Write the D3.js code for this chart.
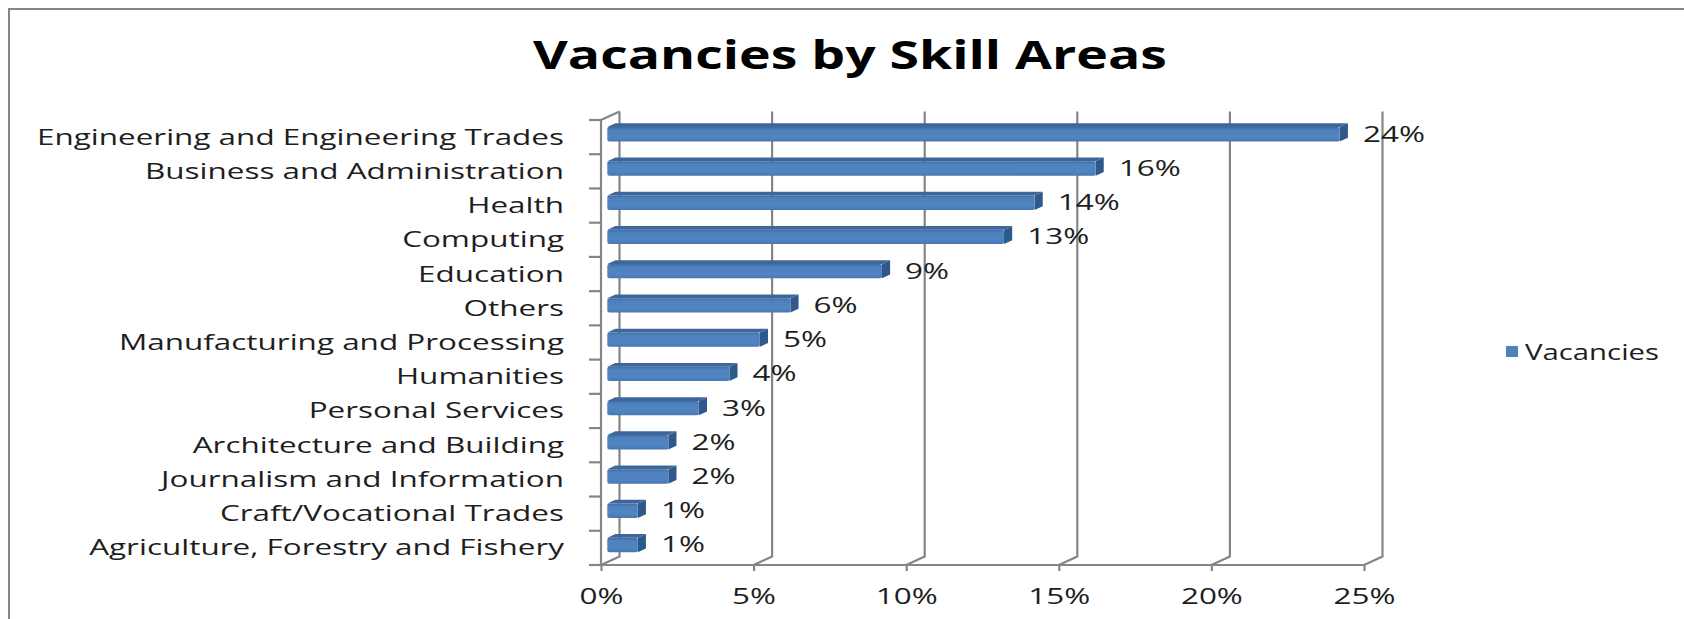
<!DOCTYPE html>
<html>
<head>
<meta charset="utf-8">
<script src="https://cdn.jsdelivr.net/npm/d3@7"></script>
<style>
  body { margin: 0; background: #fff; }
  svg { display: block; }
  text { font-family: "Open Sans", "DejaVu Sans", sans-serif; fill: #1e1e1e; }
</style>
</head>
<body>
<svg width="1684" height="619"></svg>
<script>
// Chart data
var categories = [
    'Engineering and Engineering Trades',
    'Business and Administration',
    'Health',
    'Computing',
    'Education',
    'Others',
    'Manufacturing and Processing',
    'Humanities',
    'Personal Services',
    'Architecture and Building',
    'Journalism and Information',
    'Craft/Vocational Trades',
    'Agriculture, Forestry and Fishery'
];
var values = [0.24, 0.16, 0.14, 0.13, 0.09, 0.06, 0.05, 0.04, 0.03, 0.02, 0.02, 0.01, 0.01];
var xTicks = [0, 0.05, 0.10, 0.15, 0.20, 0.25];
var seriesName = 'Vacancies';
var chartTitle = 'Vacancies by Skill Areas';

var svg = d3.select('svg');

// Layout of the front plane of the 3D plot
var plot = {l: 601, r: 1364, t: 120, b: 565};
// offset of the back wall
var depth = {dx: 18.5, dy: -8.5};

var gridColor = '#858585';

// Outer chart border
svg.append('rect')
    .attr('x', 9).attr('y', 9)
    .attr('width', 1720).attr('height', 700)
    .attr('fill', 'none')
    .attr('stroke', '#858585')
    .attr('stroke-width', 2);

// helper: stretch a group of texts horizontally so a reference string hits a width
function fitWidth(sel, refNode, target) {
    var k = target / refNode.getComputedTextLength();
    sel.each(function() {
        var t = d3.select(this);
        var x = +t.attr('x') || 0, y = +t.attr('y') || 0;
        t.attr('transform', 'translate(' + [x, y] + ') scale(' + k + ',1) translate(' + [-x, -y] + ')');
    });
}

// Title
var title = svg.append('text')
    .attr('class', 'title')
    .attr('x', 850).attr('y', 69)
    .attr('text-anchor', 'middle')
    .style('font-size', '40px')
    .style('font-weight', 'bold')
    .style('fill', '#000')
    .text(chartTitle);
fitWidth(title, title.node(), 634);

// Scales
var xScale = d3.scaleLinear()
    .domain([0, 0.25])
    .range([plot.l, plot.r]);

var yScale = d3.scaleBand()
    .domain(categories)
    .range([plot.t, plot.b]);

var gridG = svg.append('g').attr('class', 'grid');

// back wall gridlines + floor diagonals
xTicks.forEach(function(t) {
    var xf = xScale(t);
    var xb = xf + depth.dx;
    gridG.append('path')
        .attr('d', 'M' + [xb, plot.t + depth.dy] + 'L' + [xb, plot.b + depth.dy] + 'L' + [xf, plot.b])
        .attr('fill', 'none')
        .attr('stroke', gridColor)
        .attr('stroke-width', 2.2);
});

// left wall front edge and top diagonal
gridG.append('path')
    .attr('d', 'M' + [xScale(0) + depth.dx, plot.t + depth.dy] + 'L' + [xScale(0), plot.t] + 'L' + [xScale(0), plot.b])
    .attr('fill', 'none')
    .attr('stroke', gridColor)
    .attr('stroke-width', 2.2);

// x axis
var xAxis = d3.axisBottom(xScale)
    .tickValues(xTicks)
    .tickFormat(d3.format('.0%'))
    .tickSizeInner(6)
    .tickSizeOuter(0)
    .tickPadding(14);

var xAxisG = svg.append('g')
    .attr('class', 'x axis')
    .attr('transform', 'translate(0,' + plot.b + ')')
    .call(xAxis);

xAxisG.select('.domain')
    .attr('d', 'M' + (plot.l - 12) + ',0H' + plot.r)
    .attr('stroke', gridColor)
    .attr('stroke-width', 2.2);
xAxisG.selectAll('.tick line').attr('stroke', gridColor).attr('stroke-width', 2.2);
xAxisG.selectAll('.tick text')
    .style('font-size', '21px')
    .style('font-family', '"Open Sans", sans-serif')
    .attr('fill', '#1e1e1e')
    .attr('dy', '0.9em');

// y axis tick marks at band boundaries
var bounds = categories.map(function(c) { return yScale(c); }).concat([plot.b]);
svg.append('g').attr('class', 'y ticks')
    .selectAll('line')
    .data(bounds)
    .enter().append('line')
    .attr('x1', plot.l - 12).attr('x2', plot.l)
    .attr('y1', function(d) { return d; })
    .attr('y2', function(d) { return d; })
    .attr('stroke', gridColor)
    .attr('stroke-width', 2.2);

// category labels
var catLabels = svg.append('g').attr('class', 'y labels')
    .selectAll('text')
    .data(categories)
    .enter().append('text')
    .attr('x', 564)
    .attr('y', function(d) { return yScale(d) + yScale.bandwidth() / 2 + 7.5; })
    .attr('text-anchor', 'end')
    .style('font-size', '21px')
    .text(function(d) { return d; });
fitWidth(catLabels, catLabels.filter(function(d, i) { return i === categories.length - 1; }).node(), 475);

// gradient for bar front faces
var defs = svg.append('defs');
var grad = defs.append('linearGradient')
    .attr('id', 'barGrad')
    .attr('x1', 0).attr('y1', 0).attr('x2', 0).attr('y2', 1);
grad.append('stop').attr('offset', '0%').attr('stop-color', '#3f6ca4');
grad.append('stop').attr('offset', '20%').attr('stop-color', '#4f81bd');
grad.append('stop').attr('offset', '70%').attr('stop-color', '#5085c2');
grad.append('stop').attr('offset', '100%').attr('stop-color', '#4877b0');

// 3D bars: front face at depth fraction f0, back at f1
var f0 = 0.34, f1 = 0.78;
var barH = yScale.bandwidth() * 0.42;

var bars = svg.append('g').attr('class', 'bars')
    .selectAll('g')
    .data(values)
    .enter().append('g');

function barGeom(d, i) {
    var cy = yScale(categories[i]) + yScale.bandwidth() / 2;
    var x0 = xScale(0) + depth.dx * f0;
    var x1 = xScale(d) + depth.dx * f0;
    var yt = cy - barH / 2 + depth.dy * f0;
    var yb = yt + barH;
    var ox = depth.dx * (f1 - f0), oy = depth.dy * (f1 - f0);
    return {x0: x0, x1: x1, yt: yt, yb: yb, ox: ox, oy: oy};
}

// top face
bars.append('path')
    .attr('d', function(d, i) {
        var g = barGeom(d, i);
        return 'M' + [g.x0, g.yt] + 'L' + [g.x1, g.yt] + 'L' + [g.x1 + g.ox, g.yt + g.oy] + 'L' + [g.x0 + g.ox, g.yt + g.oy] + 'Z';
    })
    .attr('fill', '#3d679c');

// side face
bars.append('path')
    .attr('d', function(d, i) {
        var g = barGeom(d, i);
        return 'M' + [g.x1, g.yt] + 'L' + [g.x1 + g.ox, g.yt + g.oy] + 'L' + [g.x1 + g.ox, g.yb + g.oy] + 'L' + [g.x1, g.yb] + 'Z';
    })
    .attr('fill', '#30598b');

// front face
bars.append('rect')
    .attr('x', function(d, i) { return barGeom(d, i).x0; })
    .attr('y', function(d, i) { return barGeom(d, i).yt; })
    .attr('width', function(d, i) { var g = barGeom(d, i); return g.x1 - g.x0; })
    .attr('height', barH)
    .attr('rx', 2)
    .attr('fill', 'url(#barGrad)');

// value labels
var valLabels = bars.append('text')
    .attr('class', 'value')
    .attr('x', function(d, i) { var g = barGeom(d, i); return g.x1 + g.ox + 15; })
    .attr('y', function(d, i) { var g = barGeom(d, i); return (g.yt + g.yb) / 2 + 7.5; })
    .style('font-size', '21px')
    .text(function(d) { return d3.format('.0%')(d); });
fitWidth(valLabels, valLabels.node(), 62);
// axis tick labels use the same stretch as the value labels
fitWidth(xAxisG.selectAll('.tick text'), valLabels.node(), 62);

// legend
var legend = svg.append('g').attr('class', 'legend');
legend.append('rect')
    .attr('x', 1506).attr('y', 346)
    .attr('width', 12).attr('height', 11)
    .attr('fill', '#4f81bd');
var legText = legend.append('text')
    .attr('x', 1525).attr('y', 360)
    .style('font-size', '21px')
    .text(seriesName);
fitWidth(legText, legText.node(), 134);
</script>
</body>
</html>
